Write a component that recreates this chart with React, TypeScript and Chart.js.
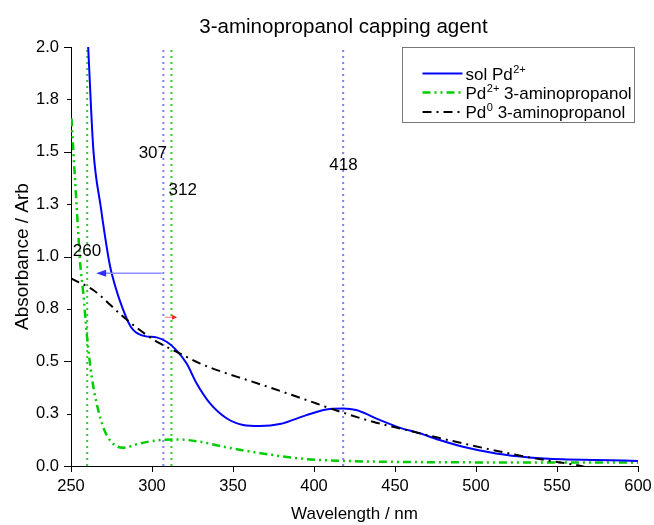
import React, { useEffect, useRef } from 'react';
import { Chart, registerables } from 'chart.js';

Chart.register(...registerables);

const FONT = '"Liberation Sans", Arial, sans-serif';

// ---- data (wavelength nm / absorbance) ----
const solWl = [260.6, 263.8, 268.3, 273, 275.1, 284.3, 288.4, 295.6, 302.8, 309, 314.1, 321.3, 327.5, 335.7, 346, 356.2, 366.5, 378.9, 395.3, 407.6, 417.9, 426.1, 440.5, 452.8, 465.2, 477.5, 491.9, 512.4, 533, 553.5, 574, 600];
const solAbs = [2.0, 1.51, 1.24, 1.0, 0.92, 0.705, 0.65, 0.62, 0.614, 0.593, 0.56, 0.49, 0.395, 0.3, 0.228, 0.196, 0.191, 0.2, 0.243, 0.27, 0.275, 0.267, 0.22, 0.183, 0.156, 0.124, 0.092, 0.06, 0.041, 0.032, 0.029, 0.024];

const pd2Wl = [250.3, 251.4, 252.5, 254.5, 255.5, 257.6, 259.7, 262.8, 266.8, 272, 282.2, 292.5, 304.9, 315.2, 329.5, 346, 364.5, 374.7, 395.3, 415.8, 446.7, 477.5, 520, 560, 600];
const pd2Abs = [1.66, 1.51, 1.365, 1.11, 0.983, 0.824, 0.633, 0.426, 0.267, 0.148, 0.087, 0.108, 0.124, 0.127, 0.116, 0.089, 0.064, 0.052, 0.033, 0.025, 0.02, 0.018, 0.017, 0.017, 0.016];

const pd0Wl = [250, 263.7, 282.2, 296.7, 304.9, 315.2, 329.5, 346, 357.3, 374.7, 395.3, 415.8, 436.4, 457, 475.5, 491.9, 512.4, 533, 545.3, 557.6, 564.9, 570];
const pd0Abs = [0.895, 0.84, 0.713, 0.625, 0.585, 0.545, 0.49, 0.442, 0.414, 0.37, 0.315, 0.26, 0.211, 0.172, 0.137, 0.108, 0.073, 0.041, 0.025, 0.01, 0.0, -0.01];

const seriesNames = ['sol Pd', 'Pd', 'Pd'];
const seriesSup = ['2+', '2+', '0'];
const seriesTail = ['', ' 3-aminopropanol', ' 3-aminopropanol'];

const markerWl = [260, 307, 312, 418];
const markerGroup = [1, 0, 1, 0]; // 0 = blue marker, 1 = green marker

const labelText = ['307', '312', '418', '260'];
const labelWl = [300.5, 319, 418.2, 259.9];
const labelAbs = [1.494, 1.317, 1.437, 1.026];

const arrowFromWl = [306, 308];
const arrowToWl = [265.5, 315.5];
const arrowAbs = [0.92, 0.71];

const xTickStep = 50;
const yTickStep = 0.25;

const toPts = (xs: number[], ys: number[]) => xs.map((x, i) => ({ x, y: ys[i] }));

const decoPlugin = {
  id: 'deco',
  afterDatasetsDraw(chart: any) {
    const ctx = chart.ctx;
    const xs = chart.scales.x;
    const ys = chart.scales.y;
    ctx.save();
    // annotation texts
    ctx.fillStyle = '#000';
    ctx.font = `17px ${FONT}`;
    ctx.textAlign = 'center';
    ctx.textBaseline = 'middle';
    labelText.forEach((t, i) => {
      ctx.fillText(t, xs.getPixelForValue(labelWl[i]), ys.getPixelForValue(labelAbs[i]));
    });
    // arrows
    const arrowStyles = [
      { line: '#8c8cff', head: '#2f2fff', hl: 10, hw: 3.5, lw: 1.5 },
      { line: '#ff8c8c', head: '#ff2020', hl: 5, hw: 2.5, lw: 1.2 },
    ];
    arrowFromWl.forEach((fw, i) => {
      const st = arrowStyles[i];
      const x1 = xs.getPixelForValue(fw);
      const x2 = xs.getPixelForValue(arrowToWl[i]);
      const y = ys.getPixelForValue(arrowAbs[i]);
      const dir = Math.sign(x2 - x1);
      ctx.strokeStyle = st.line;
      ctx.lineWidth = st.lw;
      ctx.beginPath();
      ctx.moveTo(x1, y);
      ctx.lineTo(x2 - dir * st.hl * 0.6, y);
      ctx.stroke();
      ctx.fillStyle = st.head;
      ctx.beginPath();
      ctx.moveTo(x2, y);
      ctx.lineTo(x2 - dir * st.hl, y - st.hw);
      ctx.lineTo(x2 - dir * st.hl, y + st.hw);
      ctx.closePath();
      ctx.fill();
    });
    ctx.restore();
  },
  afterDraw(chart: any) {
    const ctx = chart.ctx;
    const ys = chart.scales.y;
    const area = chart.chartArea;
    ctx.save();
    // y ticks (major / minor lengths)
    ctx.strokeStyle = '#000';
    ctx.lineWidth = 1;
    ys.ticks.forEach((t: any) => {
      const v = t.value;
      const major = Math.abs(v * 2 - Math.round(v * 2)) < 1e-6;
      const len = major ? 7 : 4;
      const y = Math.round(ys.getPixelForValue(v)) + 0.5;
      ctx.beginPath();
      ctx.moveTo(area.left - len, y);
      ctx.lineTo(area.left, y);
      ctx.stroke();
    });
    // title
    ctx.fillStyle = '#000';
    ctx.font = `20.5px ${FONT}`;
    ctx.textAlign = 'center';
    ctx.textBaseline = 'alphabetic';
    ctx.fillText('3-aminopropanol capping agent', (area.left + area.right) / 2 - 11, 33);
    // legend
    const bx = Math.round(area.right) - 235.5;
    const by = Math.round(area.top) + 0.5;
    const bw = 232;
    const bh = 75;
    ctx.fillStyle = '#fff';
    ctx.fillRect(bx, by, bw, bh);
    ctx.strokeStyle = '#777';
    ctx.lineWidth = 1;
    ctx.strokeRect(bx, by, bw, bh);
    const rowY = [26, 45, 64.5];
    chart.data.datasets.slice(0, 3).forEach((ds: any, i: number) => {
      const cy = by + rowY[i];
      ctx.strokeStyle = ds.borderColor;
      ctx.lineWidth = ds.borderWidth;
      ctx.setLineDash(ds.borderDash || []);
      ctx.beginPath();
      ctx.moveTo(bx + 20, cy);
      ctx.lineTo(bx + 60, cy);
      ctx.stroke();
      ctx.setLineDash([]);
      let tx = bx + 63;
      ctx.fillStyle = '#000';
      ctx.textAlign = 'left';
      ctx.textBaseline = 'alphabetic';
      ctx.font = `17px ${FONT}`;
      ctx.fillText(seriesNames[i], tx, cy + 6);
      tx += ctx.measureText(seriesNames[i]).width;
      ctx.font = `11px ${FONT}`;
      ctx.fillText(seriesSup[i], tx + 0.5, cy - 1);
      tx += ctx.measureText(seriesSup[i]).width + 0.5;
      ctx.font = `17px ${FONT}`;
      ctx.fillText(seriesTail[i], tx, cy + 6);
    });
    ctx.restore();
  },
};

export default function App() {
  const ref = useRef<HTMLCanvasElement | null>(null);
  useEffect(() => {
    if (!ref.current) return;
    const markerColors = ['#7f7fff', '#33cc33'];
    const markerSets = markerWl.map((w, i) => ({
      label: 'marker' + w,
      data: [{ x: w, y: 0 }, { x: w, y: 2 }],
      borderColor: markerColors[markerGroup[i]],
      borderWidth: 2,
      borderDash: [2, 4],
      pointRadius: 0,
      order: 5,
    }));
    const chart = new Chart(ref.current, {
      type: 'line',
      data: {
        datasets: [
          {
            label: 'sol Pd2+',
            data: toPts(solWl, solAbs),
            borderColor: '#0000ff',
            borderWidth: 2,
            pointRadius: 0,
            cubicInterpolationMode: 'monotone',
            order: 1,
          },
          {
            label: 'Pd2+ 3-aminopropanol',
            data: toPts(pd2Wl, pd2Abs),
            borderColor: '#00cc00',
            borderWidth: 2.5,
            borderDash: [8, 4, 2, 4, 2, 4],
            pointRadius: 0,
            cubicInterpolationMode: 'monotone',
            order: 2,
          },
          {
            label: 'Pd0 3-aminopropanol',
            data: toPts(pd0Wl, pd0Abs),
            borderColor: '#000000',
            borderWidth: 2,
            borderDash: [9, 5, 2, 5],
            pointRadius: 0,
            cubicInterpolationMode: 'monotone',
            order: 0,
          },
          ...markerSets,
        ] as any,
      },
      options: {
        animation: false,
        responsive: false,
        events: [],
        layout: { padding: { top: 47, right: 16, left: 0, bottom: 0 } },
        plugins: {
          legend: { display: false },
          tooltip: { enabled: false },
          title: { display: false },
        },
        scales: {
          x: {
            type: 'linear',
            min: 250,
            max: 600,
            afterFit: (s: any) => {
              s.height = 59;
              s.paddingLeft = 0;
              s.paddingRight = 0;
            },
            ticks: {
              stepSize: xTickStep,
              color: '#000',
              font: { family: FONT, size: 16.5 },
              padding: 5,
              maxRotation: 0,
              autoSkip: false,
            },
            grid: { drawOnChartArea: false, drawTicks: true, tickLength: 6, tickColor: '#000', color: '#000' },
            border: { display: true, color: '#000', width: 1 },
            title: {
              display: true,
              text: 'Wavelength / nm',
              color: '#000',
              font: { family: FONT, size: 17 },
              padding: { top: 0, bottom: 0 },
            },
          },
          y: {
            type: 'linear',
            min: 0,
            max: 2,
            afterFit: (s: any) => {
              s.width = 71;
              s.paddingTop = 0;
              s.paddingBottom = 0;
            },
            ticks: {
              stepSize: yTickStep,
              color: '#000',
              font: { family: FONT, size: 16.5 },
              padding: 12,
              callback: (v: any) => Number(v).toFixed(1),
            },
            grid: { drawOnChartArea: false, drawTicks: false, color: '#000' },
            border: { display: true, color: '#000', width: 1 },
            title: {
              display: true,
              text: 'Absorbance / Arb',
              color: '#000',
              font: { family: FONT, size: 19 },
              padding: { top: 11, bottom: 0 },
            },
          },
        },
      } as any,
      plugins: [decoPlugin],
    });
    return () => chart.destroy();
  }, []);
  return (
    <div style={{ position: 'fixed', left: 0, top: 0, width: 654, height: 525, background: '#fff' }}>
      <canvas ref={ref} width={654} height={525} style={{ width: 654, height: 525 }} />
    </div>
  );
}
